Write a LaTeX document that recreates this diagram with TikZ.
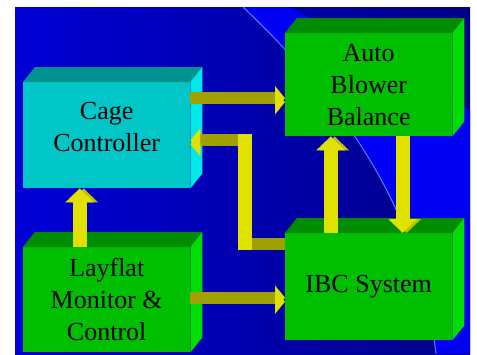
\documentclass[tikz,border=0pt]{standalone}
\usepackage{fontspec}
\setmainfont{Liberation Serif}
\usepackage{xcolor}
\usetikzlibrary{arrows.meta, positioning, calc}
\definecolor{bgleft}{RGB}{0, 0, 215}
\definecolor{bgright}{RGB}{0, 0, 135}
\definecolor{bgbright}{RGB}{0, 0, 245}
\definecolor{bgline}{RGB}{80, 130, 255}
\definecolor{cagefront}{RGB}{0, 198, 200}
\definecolor{cagetop}{RGB}{0, 145, 145}
\definecolor{cageside}{RGB}{0, 232, 232}
\definecolor{boxfront}{RGB}{0, 190, 0}
\definecolor{boxtop}{RGB}{0, 140, 0}
\definecolor{boxside}{RGB}{0, 222, 0}
\definecolor{slabyellow}{RGB}{225, 225, 0}
\definecolor{slabolive}{RGB}{160, 160, 0}
\definecolor{slabside}{RGB}{190, 190, 0}

% top and side faces of a block
\newcommand{\blockfaces}[3]{%
    \fill[#2] (#1.north west) -- ++(12,-15) -- ($(#1.north east)+(12,-15)$) -- (#1.north east) -- cycle;
    \fill[#3] (#1.north east) -- ++(12,-15) -- ($(#1.south east)+(12,-15)$) -- (#1.south east) -- cycle;
}

\begin{document}
\begin{tikzpicture}[x=1pt, y=-1pt,
    block/.style={anchor=north west, inner sep=0pt, minimum width=167pt, align=center,
        font=\fontsize{26}{32}\selectfont},
    hslab/.style={draw=slabolive, line width=12pt,
        preaction={draw=slabyellow, transform canvas={yshift=-4pt}}},
    vslab/.style={draw=slabyellow, line width=14pt,
        preaction={draw=slabside, transform canvas={xshift=4pt}}},
    htip/.style={-{Triangle[width=24pt, length=10pt, color=slabyellow]}},
    vtip/.style={-{Triangle[width=28pt, length=14pt]}}]
    \useasboundingbox (0,0) rectangle (477,354);

    % Background
    \shade[left color=bgleft, right color=bgright] (15,7) rectangle (470,354);
    \fill[bgbright] (243,7) .. controls (330,90) and (420,200) .. (436,354)
        -- (470,354) -- (470,110) -- (290,7) -- cycle;
    \draw[bgline, line width=1pt] (243,7) .. controls (330,90) and (420,200) .. (436,354);

    % Blocks
    \node[block, fill=cagefront, minimum height=106pt, text depth=17pt] (cage) at (23,82) {Cage\\Controller};
    \node[block, fill=boxfront, minimum height=103pt] (abb) at (285,33) {Auto\\Blower\\Balance};
    \node[block, fill=boxfront, minimum height=105pt] (lay) at (23,247) {Layflat\\Monitor \&\\Control};
    \node[block, fill=boxfront, minimum height=107pt] (ibc) at (285,233) {IBC System};
    \blockfaces{cage}{cagetop}{cageside}
    \blockfaces{abb}{boxtop}{boxside}
    \blockfaces{lay}{boxtop}{boxside}
    \blockfaces{ibc}{boxtop}{boxside}

    % Arrows
    \coordinate (c1) at ($(cage.east)+(0,-37)$);
    \draw[hslab, htip] (c1) -- (c1 -| abb.west);

    \coordinate (l1) at ($(lay.east)+(0,-2)$);
    \draw[hslab, htip] (l1) -- (l1 -| ibc.west);

    \coordinate (lbot) at ($(ibc.west)+(-40,-43)$);
    \coordinate (ltop) at ($(lbot |- cage.east)+(0,5)$);
    \draw[hslab, htip] ($(ibc.west)+(0,-43)$) -- (lbot) -- (ltop) -- (ltop -| cage.east);
    \draw[vslab] ($(lbot)+(0,6)$) -- ($(ltop)+(0,-6)$);

    \draw[vslab, vtip] ($(lay.north)+(-27,0)$) -- ($(cage.south)+(-27,0)$);
    \draw[vslab, vtip] ($(ibc.north)+(-38,0)$) -- ($(abb.south)+(-38,0)$);
    \draw[vslab, vtip] ($(abb.south)+(34,0)$) -- ($(ibc.north)+(34,0)$);
\end{tikzpicture}
\end{document}
